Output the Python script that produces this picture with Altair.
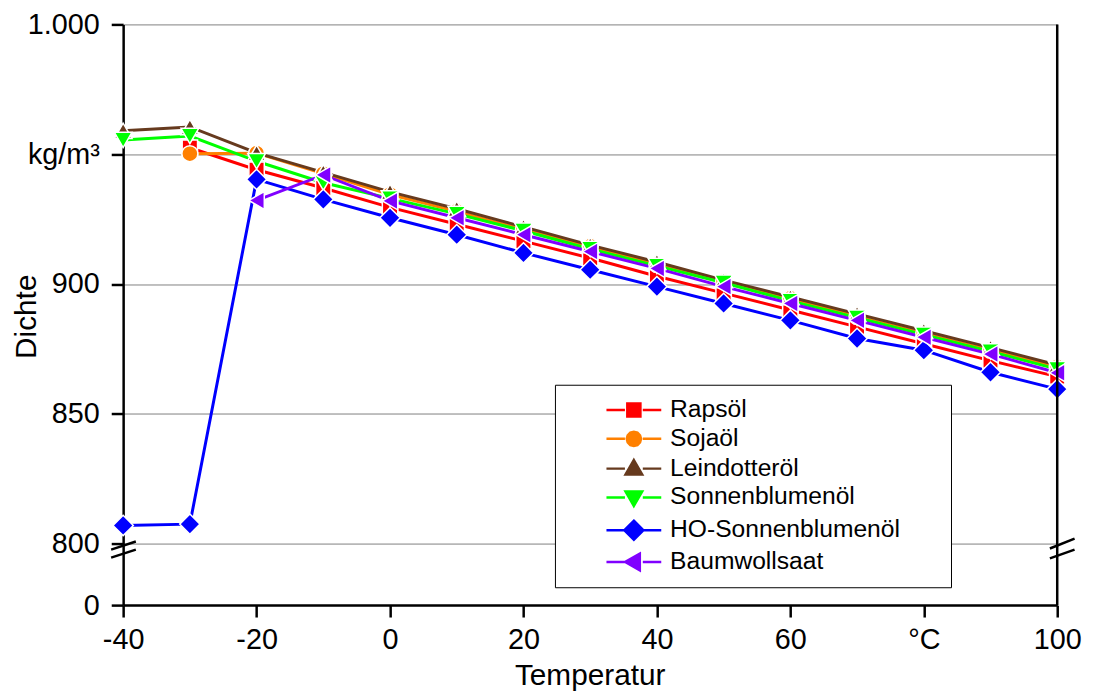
import altair as alt
import pandas as pd

# ---------------- data ----------------
temps = [-40, -30, -20, -10, 0, 10, 20, 30, 40, 50, 60, 70, 80, 90, 100]
series_names = ["Rapsöl", "Sojaöl", "Leindotteröl", "Sonnenblumenöl",
                "HO-Sonnenblumenöl", "Baumwollsaat"]
rapsoel = [None, 952.5, 944, 937, 929.5, 923, 916.5, 910, 903, 896.5, 890, 883.5, 877, 870.5, 864.3]
sojaoel = [None, 950.2, 950.4, 942.5, 934.5, 928, 921, 914.5, 907.5, 901, 894.5, 887.5, 881, 874.5, 868.1]
leindotteroel = [959, 960.5, 950.5, 943, 935.5, 929, 922, 915, 908.5, 901.5, 895, 888.5, 882, 875.5, 868.8]
sonnenblumenoel = [955.5, 957, 947.3, 939, 933, 927, 920.5, 913.5, 907, 900.5, 893.5, 887, 880.5, 874, 867.2]
ho_sonnenblumenoel = [807, 807.5, 940.3, 932.6, 925.5, 919, 912, 905.5, 899, 892.5, 886, 879, 874.5, 866, 859.5]
baumwollsaat = [None, None, 932.2, 942, 932, 925.5, 919, 912.5, 906, 899, 892.5, 886, 879.5, 873, 865.8]
series_values = [rapsoel, sojaoel, leindotteroel, sonnenblumenoel, ho_sonnenblumenoel, baumwollsaat]

x_tick_values = [-40, -20, 0, 20, 40, 60, 80, 100]
x_tick_labels = ["-40", "-20", "0", "20", "40", "60", "°C", "100"]
y_break_bottom = 776.3          # position where the "0" label sits (broken axis)
y_tick_values = [y_break_bottom, 800, 850, 900, 950, 1000]
y_tick_labels = ["0", "800", "850", "900", "kg/m³", "1.000"]

# ---------------- styles ----------------
colors = ["#FF0000", "#FF8000", "#663A1E", "#00FF00", "#0000FF", "#8000FF"]
shapes = ["square", "circle", "triangle-up", "triangle-down", "diamond", "triangle-left"]
sizes = [240, 260, 320, 320, 420, 320]
FONT = "Liberation Sans"

legend_line = "M-2.3,0L-0.75,0M0.75,0L2.3,0"
legend_pad_right = "M25.2,0L25.2,0"   # zero-length segment: widens the legend box only
legend_markers = [
    "M-0.55,-0.55L0.55,-0.55L0.55,0.55L-0.55,0.55Z",
    "M0.6,0L0.52,0.3L0.3,0.52L0,0.6L-0.3,0.52L-0.52,0.3L-0.6,0L-0.52,-0.3L-0.3,-0.52L0,-0.6L0.3,-0.52L0.52,-0.3Z",
    "M0,-0.72L0.7,0.5L-0.7,0.5Z",
    "M0,0.72L0.7,-0.5L-0.7,-0.5Z",
    "M0,-0.8L0.8,0L0,0.8L-0.8,0Z",
    "M-0.72,0L0.5,-0.7L0.5,0.7Z",
]
legend_paths = [m + legend_line + legend_pad_right for m in legend_markers]

rows = []
for name, vals in zip(series_names, series_values):
    for t, v in zip(temps, vals):
        if v is not None:
            rows.append({"temp": t, "value": v, "series": name})
df = pd.DataFrame(rows)
one = pd.DataFrame({"a": [0]})


def label_expr(values, labels):
    parts = [f"abs(datum.value - ({v})) < 0.05 ? '{l}'" for v, l in zip(values, labels)]
    return " : ".join(parts) + " : ''"


x_axis = alt.Axis(values=x_tick_values, labelExpr=label_expr(x_tick_values, x_tick_labels),
                  grid=False, tickSize=12, tickWidth=2.5, tickColor="black",
                  domainColor="black", domainWidth=2.5,
                  labelFont=FONT, labelFontSize=29, labelColor="black", labelPadding=9,
                  labelFlush=False, labelOverlap=False,
                  title="Temperatur", titleFont=FONT, titleFontSize=30, titleFontWeight="normal",
                  titleColor="black", titleX=470, titleY=71, titleBaseline="middle")
y_axis = alt.Axis(values=y_tick_values, labelExpr=label_expr(y_tick_values, y_tick_labels),
                  grid=True, gridColor="#808080", gridWidth=1,
                  tickSize=12, tickWidth=2.5, tickColor="black",
                  domainColor="black", domainWidth=2.5,
                  labelFont=FONT, labelFontSize=29, labelColor="black", labelPadding=12,
                  labelFlush=False, labelOverlap=False,
                  title="Dichte", titleFont=FONT, titleFontSize=30, titleFontWeight="normal",
                  titleColor="black", titleX=-97, titleY=294, titleAngle=270,
                  titleAlign="center", titleBaseline="middle")

x_enc = alt.X("temp:Q", scale=alt.Scale(domain=[-40, 100], nice=False, zero=False), axis=x_axis)
y_enc = alt.Y("value:Q", scale=alt.Scale(domain=[y_break_bottom, 1000], nice=False, zero=False), axis=y_axis)
color_enc = alt.Color("series:N", scale=alt.Scale(domain=series_names, range=colors), legend=None)

base = alt.Chart(df)

lines = base.mark_line(strokeWidth=3).encode(x=x_enc, y=y_enc, color=color_enc)

point_layers = []
for name, shp, sz in zip(series_names, shapes, sizes):
    point_layers.append(
        base.transform_filter(alt.datum.series == name)
        .mark_point(shape=shp, filled=True, size=sz, opacity=1, stroke="white", strokeWidth=1.5)
        .encode(x=x_enc, y=y_enc, color=color_enc)
    )

leg = alt.Legend(title=None, orient="none", legendX=435, legendY=363, padding=12,
                 fillColor="white", strokeColor="black",
                 symbolSize=576, symbolStrokeWidth=2.5, symbolOffset=54, labelOffset=23,
                 rowPadding=3, labelFont=FONT, labelFontSize=24.8, labelColor="black",
                 labelLimit=500)

# legend-only layer: its marks sit outside the (clipped) plot area
legend_layer = base.transform_calculate(hidden="datum.value + 5000").mark_point(
    filled=True, opacity=1, size=576, clip=True).encode(
    x=x_enc,
    y=alt.Y("hidden:Q", scale=alt.Scale(domain=[y_break_bottom, 1000], nice=False, zero=False), axis=y_axis),
    fill=alt.Fill("series:N", scale=alt.Scale(domain=series_names, range=colors), legend=leg),
    stroke=alt.Stroke("series:N", scale=alt.Scale(domain=series_names, range=colors), legend=leg),
    shape=alt.Shape("series:N", scale=alt.Scale(domain=series_names, range=legend_paths), legend=leg),
)

right_border = alt.Chart(one).mark_rule(color="black", strokeWidth=2.5).encode(x=alt.datum(100))

# broken-axis marks (//) on both vertical axes
breaks = []
for (xa, xb, ya, yb) in [(-41.8, -38.1, 797.7, 800.8), (-41.8, -38.1, 794.6, 797.7),
                         (98.9, 102.6, 798.1, 801.9), (98.9, 102.6, 794.3, 797.7)]:
    breaks.append(alt.Chart(one).mark_rule(color="black", strokeWidth=2.5).encode(
        x=alt.datum(xa), x2=alt.datum(xb), y=alt.datum(ya), y2=alt.datum(yb)))

chart = alt.layer(legend_layer, lines, *point_layers, right_border, *breaks).properties(
    width=941, height=585,
    autosize=alt.AutoSizeParams(type="none"),
    padding={"left": 116, "top": 14, "right": 30, "bottom": 86},
    background="white",
).configure_view(stroke=None)

chart.save("out.html", embed_options={"renderer": "svg", "actions": False})
